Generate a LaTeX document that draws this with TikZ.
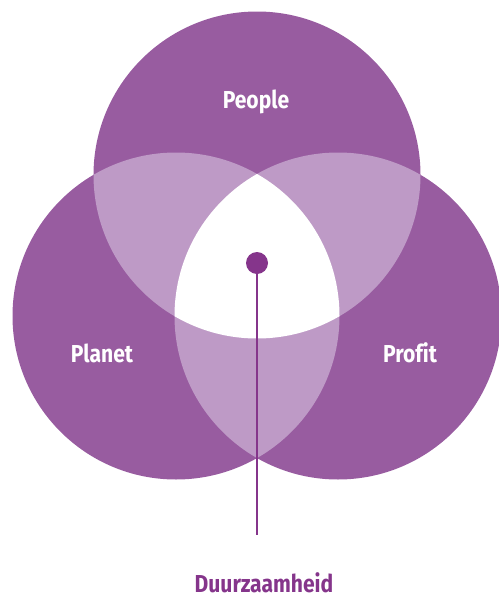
\documentclass[tikz,border=0pt]{standalone}
\usepackage{fontspec}
\setmainfont{Fira Sans}[UprightFont=* Bold, FakeStretch=0.86, Ligatures=NoCommon]
\definecolor{vdark}{RGB}{152,92,160}
\definecolor{vlight}{RGB}{190,154,198}
\definecolor{vdot}{RGB}{133,53,139}
\begin{document}
\begin{tikzpicture}[x=1pt,y=-1pt,
  ring/.style={circle, fill=vdark, minimum size=327pt, inner sep=0pt},
  lbl/.style={text=white, font=\fontsize{24.5}{28}\selectfont},
  pin/.style={circle, fill=vdot, minimum size=22pt, inner sep=0pt},
  pinline/.style={draw=vdot, line width=2.4pt}]
\useasboundingbox (0,0) rectangle (498,597);
\node[ring] (people) at (257,175) {};
\node[ring] (planet) at (176,316) {};
\node[ring] (profit) at (338,316) {};
% pairwise overlaps
\begin{scope}
  \clip (people.center) circle (163.5pt);
  \fill[vlight] (planet.center) circle (163.5pt);
  \fill[vlight] (profit.center) circle (163.5pt);
\end{scope}
\begin{scope}
  \clip (planet.center) circle (163.5pt);
  \fill[vlight] (profit.center) circle (163.5pt);
\end{scope}
% centre
\begin{scope}
  \clip (people.center) circle (163.5pt);
  \clip (planet.center) circle (163.5pt);
  \fill[white] (profit.center) circle (163.5pt);
\end{scope}
\node[lbl] (tpeople) at (256,102) {People};
\node[lbl] (tplanet) at (102,353) {Planet};
\node[lbl] (tprofit) at (410,353) {Profit};
\node[pin] (dot) at (257,263) {};
\coordinate (lineend) at (257,535);
\draw[pinline] (dot.center) -- (lineend);
\node[text=vdot, font=\fontsize{24.5}{28}\selectfont, inner sep=0pt] (dz) at (264,583) {Duurzaamheid};
\end{tikzpicture}
\end{document}
